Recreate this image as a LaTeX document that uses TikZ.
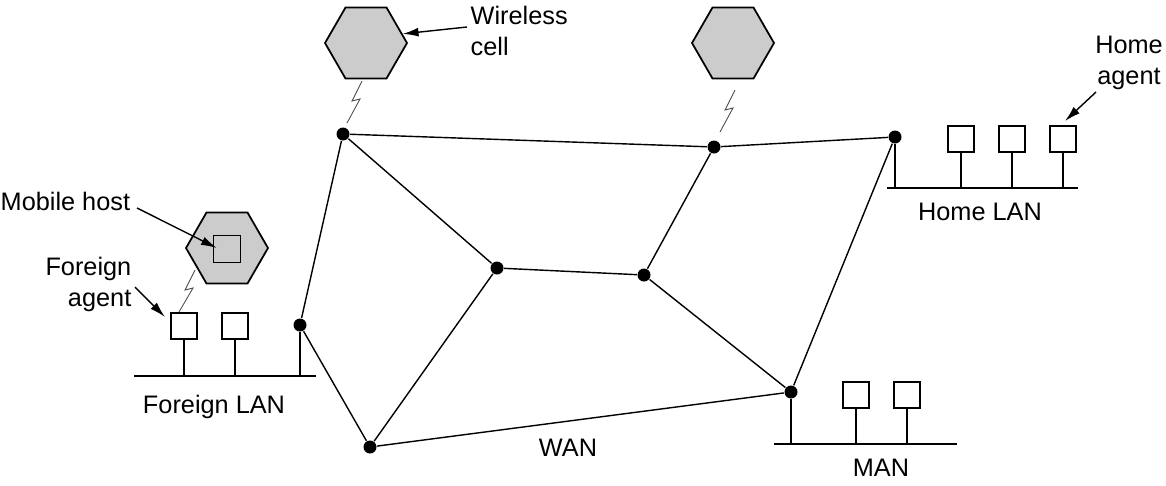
\documentclass[tikz,border=0pt]{standalone}
\usepackage{fontspec}
\setmainfont{Liberation Sans}
\usetikzlibrary{shapes.geometric,arrows.meta,calc}

\newcommand{\zap}[2]{\draw[bolt] (#1) -- ++(-10,20) -- ++(8,-2) -- (#2);}

\begin{document}
\begin{tikzpicture}[x=0.02cm, y=-0.02cm, line width=0.8pt,
    router/.style={circle, fill=black, inner sep=0pt, minimum size=0.26cm},
    cell/.style={regular polygon, regular polygon sides=6, draw, line width=1pt, fill=black!20, inner sep=0pt, minimum size=1.64cm},
    host/.style={rectangle, draw, fill=white, inner sep=0pt, minimum size=0.52cm},
    bolt/.style={black!70, line width=0.5pt},
    pointer/.style={-{Latex[length=9pt,width=5pt]}},
    lbl/.style={font=\fontsize{14.4}{17.6}\selectfont, inner sep=0pt}]
    \useasboundingbox (0,0) rectangle (1166,485);
    \node[router] (a) at (343,134) {};
    \node[router] (b) at (714,147) {};
    \node[router] (c) at (895,137) {};
    \node[router] (d) at (497,268) {};
    \node[router] (e) at (644,275) {};
    \node[router] (f) at (300,325) {};
    \node[router] (g) at (370,447) {};
    \node[router] (h) at (791,392) {};
    \draw (a) -- (b) -- (c) -- (h) -- (g) -- (f) -- (a) -- (d) -- (e) -- (b);
    \draw (d) -- (g);
    \draw (e) -- (h);
    % cells
    \node[cell] (cella) at (366,43) {};
    \node[cell] (cellb) at (733,43) {};
    \node[cell] (cellm) at (227,248) {};
    \node[draw, inner sep=0pt, minimum size=0.54cm] (mh) at (227,249) {};
    \coordinate (za) at (362,81);
    \coordinate (za2) at (347,123);
    \coordinate (zb) at (735,90);
    \coordinate (zb2) at (720,132);
    \coordinate (zm) at (195,270);
    \coordinate (zm2) at (179,312);
    \zap{za}{za2}
    \zap{zb}{zb2}
    \zap{zm}{zm2}
    % foreign LAN
    \coordinate (fl) at (134,376);
    \coordinate (fr) at (316,376);
    \draw (fl) -- (fr);
    \node[host] (fa) at (184,326) {};
    \node[host] (f2) at (235,326) {};
    \draw (fa.south) -- (fa |- fl);
    \draw (f2.south) -- (f2 |- fl);
    \draw (f) -- (f |- fl);
    % home LAN
    \coordinate (hl) at (887,188);
    \coordinate (hr) at (1078,188);
    \draw (hl) -- (hr);
    \node[host] (h1) at (961,139) {};
    \node[host] (h2) at (1012,139) {};
    \node[host] (ha) at (1063,139) {};
    \draw (h1.south) -- (h1 |- hl);
    \draw (h2.south) -- (h2 |- hl);
    \draw (ha.south) -- (ha |- hl);
    \draw (c) -- (c |- hl);
    % MAN
    \coordinate (ml) at (774,444);
    \coordinate (mr) at (957,444);
    \draw (ml) -- (mr);
    \node[host] (m1) at (856,395) {};
    \node[host] (m2) at (907,395) {};
    \draw (m1.south) -- (m1 |- ml);
    \draw (m2.south) -- (m2 |- ml);
    \draw (h) -- (h |- ml);
    % labels
    \node[lbl, align=left, anchor=west] (wcell) at (470,31) {Wireless\\cell};
    \node[lbl, align=center] (hagent) at (1129,63) {Home\\agent};
    \node[lbl, anchor=west] (mhost) at (0,201) {Mobile host};
    \node[lbl, align=right, anchor=east] (fagent) at (132,284) {Foreign\\agent};
    \node[lbl] (flan) at (214,407) {Foreign LAN};
    \node[lbl] (hlan) at (980,212) {Home LAN};
    \node[lbl] (man) at (881,468) {MAN};
    \node[lbl] (wan) at (568,448) {WAN};
    \coordinate (wc0) at (467,27);
    \coordinate (mh0) at (137,208);
    \coordinate (fa0) at (135,287);
    \coordinate (fa1) at (165,317);
    \coordinate (ha0) at (1096,92);
    \coordinate (ha1) at (1065,121);
    \draw[pointer] (wc0) -- (cella.14);
    \draw[pointer] (mh0) -- ($(mh.west)+(4,-1)$);
    \draw[pointer] (fa0) -- (fa1);
    \draw[pointer] (ha0) -- (ha1);
\end{tikzpicture}
\end{document}
